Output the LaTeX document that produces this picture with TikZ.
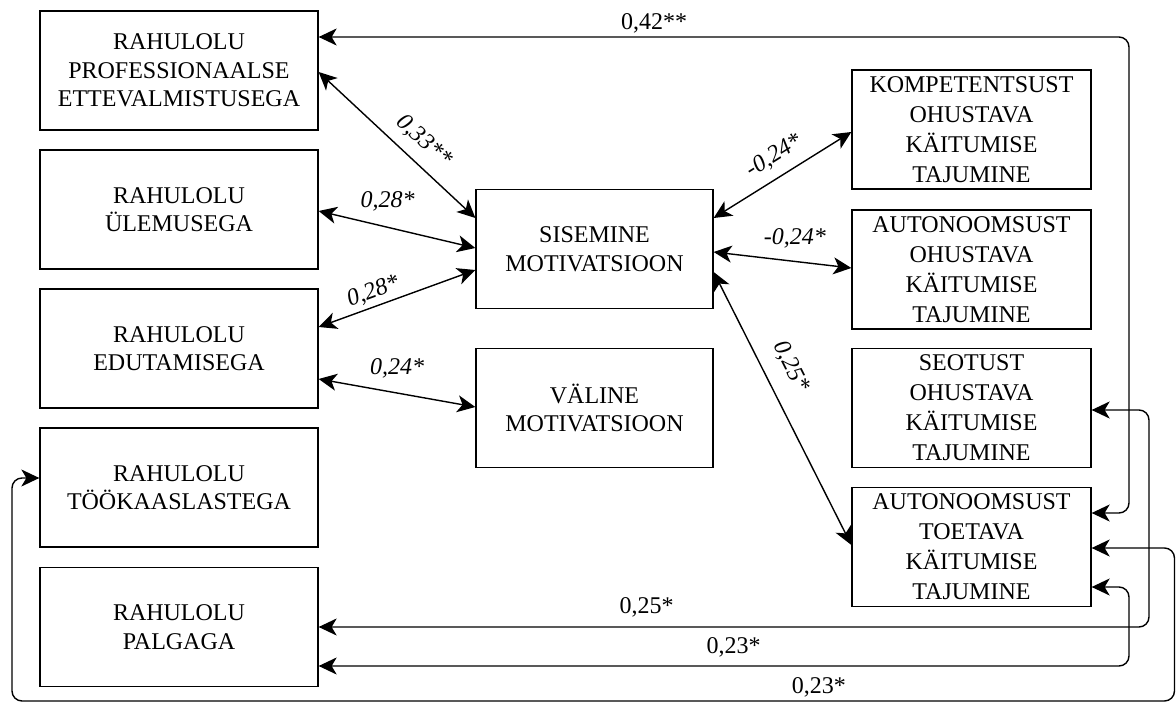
\documentclass[tikz,border=0pt]{standalone}
\usepackage{fontspec}
\setmainfont{Liberation Serif}
\usetikzlibrary{arrows.meta,calc}
\begin{document}
\begin{tikzpicture}[x=1pt,y=-1pt,
  box/.style={draw, line width=1.3pt, minimum width=278pt, minimum height=119pt, align=center, inner sep=0pt, font=\fontsize{24}{28.5}\selectfont},
  rbox/.style={box, minimum width=239pt, font=\fontsize{24}{30}\selectfont},
  mbox/.style={box, minimum width=237pt},
  tip/.style={Stealth[length=18pt,width=17pt,inset=5pt]},
  con/.style={line width=1.4pt, {Stealth[length=18pt,width=17pt,inset=5pt]}-{Stealth[length=18pt,width=17pt,inset=5pt]}},
  lbl/.style={font=\fontsize{24}{28}\selectfont\itshape, inner sep=0pt, text height=16pt, text depth=3.5pt},
  nlbl/.style={lbl, font=\fontsize{24}{28}\selectfont}
]
\useasboundingbox (0,0) rectangle (1176,703);

\node[box] (b1) at (179,70.5) {RAHULOLU\\PROFESSIONAALSE\\ETTEVALMISTUSEGA};
\node[box] (b2) at (179,209.5) {RAHULOLU\\ÜLEMUSEGA};
\node[box] (b3) at (179,348.5) {RAHULOLU\\EDUTAMISEGA};
\node[box] (b4) at (179,487.5) {RAHULOLU\\TÖÖKAASLASTEGA};
\node[box] (b5) at (179,627) {RAHULOLU\\PALGAGA};
\node[mbox] (sis) at (594.5,249) {SISEMINE\\MOTIVATSIOON};
\node[mbox] (val) at (594.5,408) {VÄLINE\\MOTIVATSIOON};
\node[rbox] (komp) at (971.5,129.5) {KOMPETENTSUST\\OHUSTAVA\\KÄITUMISE\\TAJUMINE};
\node[rbox] (aut) at (971.5,269.5) {AUTONOOMSUST\\OHUSTAVA\\KÄITUMISE\\TAJUMINE};
\node[rbox] (seo) at (971.5,408) {SEOTUST\\OHUSTAVA\\KÄITUMISE\\TAJUMINE};
\node[rbox] (toe) at (971.5,547) {AUTONOOMSUST\\TOETAVA\\KÄITUMISE\\TAJUMINE};

% diagonal connectors
\draw[con] (b1.east |- 0,72) -- node[lbl, sloped, above=11pt, pos=0.58] {0,33**} (sis.west |- 0,218);
\draw[con] (b2.east |- 0,211) -- node[lbl, above=16pt, pos=0.44] {0,28*} (sis.west |- 0,248);
\draw[con] (b3.east |- 0,327) -- node[lbl, sloped, above=4pt, pos=0.38] {0,28*} (sis.west |- 0,270);
\draw[con] (b3.east |- 0,379) -- node[lbl, above=14pt, pos=0.5] {0,24*} (val.west |- 0,407);
\draw[con] (sis.east |- 0,218) -- node[lbl, sloped, above=10pt, pos=0.52] {-0,24*} (komp.west |- 0,132);
\draw[con] (sis.east |- 0,252) -- node[lbl, above=13pt, pos=0.59] {-0,24*} (aut.west |- 0,268);
\draw[con] (sis.east |- 0,272) -- node[lbl, sloped, above=16pt, pos=0.39] {0,25*} (toe.west |- 0,545);

% loop connectors
\draw[con, rounded corners=10pt] (b1.east |- 0,37) -- node[nlbl, above=3pt, pos=0.414] {0,42**} (1129,37) -- (1129,513) -- (toe.east |- 0,513);
\draw[con, rounded corners=10pt] (seo.east |- 0,410) -- (1149,410) -- (1149,627) -- node[nlbl, above=9pt, pos=0.605] {0,25*} (b5.east |- 0,627);
\draw[con, rounded corners=10pt] (toe.east |- 0,587) -- (1129,587) -- (1129,666) -- node[nlbl, above=8pt, pos=0.488] {0,23*} (b5.east |- 0,666);
\draw[con, rounded corners=10pt] (toe.east |- 0,548) -- (1174.5,548) -- (1174.5,701) -- node[nlbl, above=3pt, pos=0.306] {0,23*} (12,701) -- (12,478) -- (b4.west |- 0,478);
\end{tikzpicture}
\end{document}
